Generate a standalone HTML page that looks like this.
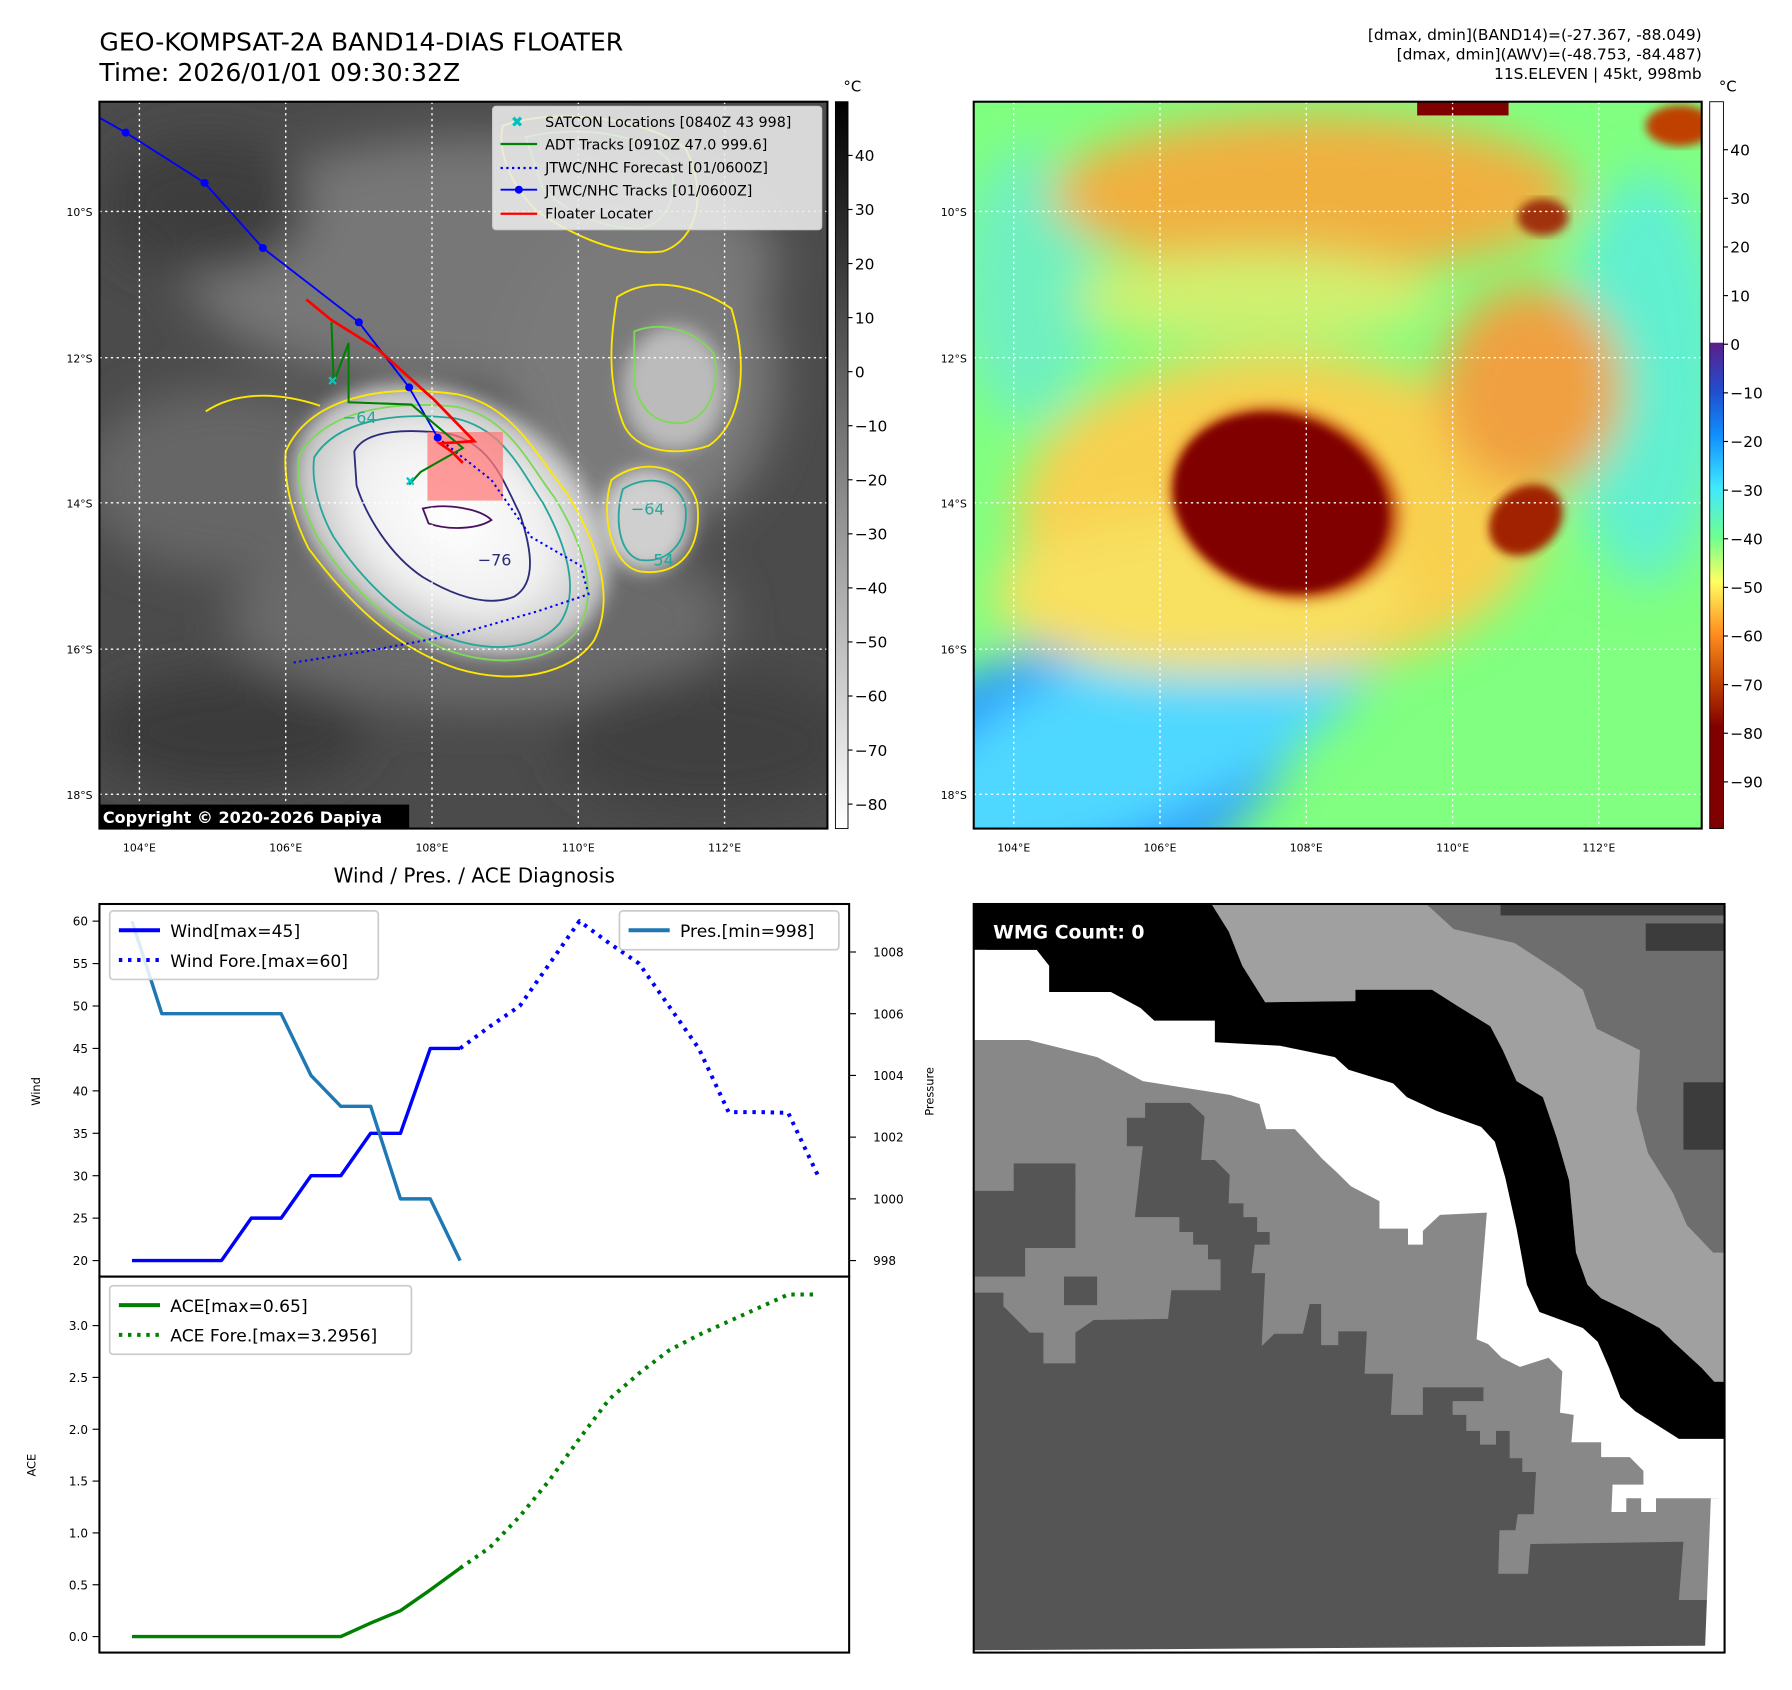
<!DOCTYPE html>
<html><head><meta charset="utf-8"><style>
html,body{margin:0;padding:0;background:#fff;}
svg{display:block;font-family:"DejaVu Sans","Liberation Sans",sans-serif;}
</style></head><body>
<svg id="root" width="1792" height="1690" viewBox="0 0 1568 1478.75" preserveAspectRatio="none" xmlns="http://www.w3.org/2000/svg">
<defs>
<filter id="b8" x="-20%" y="-20%" width="140%" height="140%"><feGaussianBlur stdDeviation="8"/></filter>
<filter id="b20" x="-30%" y="-30%" width="160%" height="160%"><feGaussianBlur stdDeviation="20"/></filter>
<filter id="b4"><feGaussianBlur stdDeviation="4"/></filter>
<radialGradient id="core" cx="50%" cy="50%" r="50%"><stop offset="0" stop-color="#fff"/><stop offset="0.6" stop-color="#f0f0f0"/><stop offset="1" stop-color="#bdbdbd"/></radialGradient>
<linearGradient id="cbgray" x1="0" y1="0" x2="0" y2="1"><stop offset="0" stop-color="#000"/><stop offset="1" stop-color="#fff"/></linearGradient>
<linearGradient id="cbcol" x1="0" y1="0" x2="0" y2="1">
<stop offset="0" stop-color="#fff"/><stop offset="0.331" stop-color="#fff"/><stop offset="0.332" stop-color="#5a1e8c"/>
<stop offset="0.40" stop-color="#2050d0"/><stop offset="0.46" stop-color="#1090ff"/><stop offset="0.53" stop-color="#40e8ff"/>
<stop offset="0.60" stop-color="#70ff90"/><stop offset="0.66" stop-color="#ffff60"/><stop offset="0.73" stop-color="#ff9020"/>
<stop offset="0.80" stop-color="#c04000"/><stop offset="0.86" stop-color="#800000"/><stop offset="1" stop-color="#800000"/></linearGradient>
<radialGradient id="redcore" cx="50%" cy="50%" r="50%"><stop offset="0" stop-color="#800000"/><stop offset="0.7" stop-color="#820000"/><stop offset="0.85" stop-color="#c05010"/><stop offset="1" stop-color="#f0a040" stop-opacity="0"/></radialGradient>
<clipPath id="clipL"><rect x="87" y="89" width="637" height="636"/></clipPath>
<clipPath id="clipR"><rect x="852" y="89" width="637" height="636"/></clipPath>
<clipPath id="clipB"><rect x="852" y="791" width="657" height="655"/></clipPath>
</defs>

<text x="87" y="44" font-size="22" fill="#000">GEO-KOMPSAT-2A BAND14-DIAS FLOATER</text>
<text x="87" y="71" font-size="22" fill="#000">Time: 2026/01/01 09:30:32Z</text>
<g font-size="13.5" text-anchor="end" fill="#000">
<text x="1489" y="35">[dmax, dmin](BAND14)=(-27.367, -88.049)</text>
<text x="1489" y="52">[dmax, dmin](AWV)=(-48.753, -84.487)</text>
<text x="1489" y="69">11S.ELEVEN | 45kt, 998mb</text>
</g>

<g clip-path="url(#clipL)">
<rect x="87" y="89" width="637" height="636" fill="#4b4b4b"/>
<g filter="url(#b20)">
<ellipse cx="420" cy="230" rx="260" ry="110" fill="#777"/>
<ellipse cx="560" cy="330" rx="120" ry="140" fill="#7a7a7a"/>
<ellipse cx="200" cy="420" rx="130" ry="80" fill="#666"/>
<ellipse cx="420" cy="540" rx="220" ry="80" fill="#6a6a6a"/>
<ellipse cx="200" cy="640" rx="120" ry="50" fill="#3a3a3a"/>
<ellipse cx="620" cy="650" rx="130" ry="60" fill="#3f3f3f"/>
<ellipse cx="180" cy="180" rx="90" ry="60" fill="#3c3c3c"/>
</g>
<ellipse cx="395" cy="455" rx="150" ry="105" transform="rotate(32 395 455)" fill="url(#core)" filter="url(#b8)"/>
<ellipse cx="565" cy="455" rx="40" ry="45" fill="#cfcfcf" filter="url(#b8)"/>
<ellipse cx="590" cy="340" rx="45" ry="55" fill="#bbb" filter="url(#b8)"/>
<g fill="none" stroke-width="1.6">
<path d="M250,395 C270,350 330,335 400,345 C450,355 470,400 495,430 C520,470 540,520 520,560 C500,590 450,600 400,585 C340,565 300,520 270,480 C255,450 248,420 250,395Z" stroke="#ffe800"/>
<path d="M262,398 C285,360 340,350 400,356 C445,365 462,405 485,435 C510,475 525,520 505,552 C485,578 440,585 395,570 C345,553 305,512 280,474 C266,450 258,420 262,398Z" stroke="#7ed957"/>
<path d="M275,400 C295,368 345,360 398,366 C440,375 455,410 475,440 C496,478 508,518 490,545 C470,568 432,572 392,558 C350,542 315,505 292,470 C279,447 272,420 275,400Z" stroke="#26a69a"/>
<path d="M310,395 C320,375 360,375 395,380 C430,390 440,420 455,450 C465,480 470,510 450,522 C425,532 395,520 370,505 C340,485 320,450 312,425Z" stroke="#2c2c7a"/>
<path d="M370,445 C390,440 420,445 430,455 C420,462 395,465 375,458Z" stroke="#4a1060"/>
<path d="M535,420 C560,400 600,405 610,440 C615,480 595,505 560,500 C535,495 525,450 535,420Z" stroke="#ffe800"/>
<path d="M545,428 C565,415 595,418 600,445 C602,475 585,493 560,490 C542,485 537,455 545,428Z" stroke="#26a69a"/>
<path d="M540,260 C570,240 610,250 640,270 C655,320 650,370 620,390 C590,400 555,395 545,370 C530,330 535,290 540,260Z" stroke="#ffe800"/>
<path d="M555,290 C580,280 610,290 625,310 C630,340 620,365 598,370 C575,372 560,360 555,335Z" stroke="#7ed957"/>
<path d="M440,110 C480,95 560,100 600,130 C620,170 610,210 580,220 C540,225 500,205 470,185 C445,160 435,130 440,110Z" stroke="#ffe800"/>
<path d="M460,120 C500,110 560,115 585,140 C595,170 585,195 560,200 C525,200 495,185 475,165Z" stroke="#7ed957"/>
<path d="M180,360 C210,340 250,345 280,355" stroke="#ffe800"/>
</g>
<g font-size="14" fill="#26a69a">
<text x="300" y="370">−64</text><text x="418" y="495" fill="#2c2c7a">−76</text><text x="552" y="450">−64</text><text x="560" y="495">−54</text>
</g>
</g>
<g stroke="#fff" stroke-width="1.2" stroke-dasharray="2,3" fill="none">
<path d="M122,89V725M250,89V725M378,89V725M506,89V725M634,89V725M87,185H724M87,313H724M87,440H724M87,568H724M87,695H724"/>
</g>
<g><rect x="374" y="378" width="66" height="60" fill="#ff7a7a" opacity="0.75"/></g>
<g>
<polyline points="87,103 110,116 179,160 230,217 314,282 358,339 383,383" fill="none" stroke="#0000ff" stroke-width="1.6"/>
<g fill="#0000ff"><circle cx="110" cy="116" r="3.5"/><circle cx="179" cy="160" r="3.5"/><circle cx="230" cy="217" r="3.5"/><circle cx="314" cy="282" r="3.5"/><circle cx="358" cy="339" r="3.5"/><circle cx="383" cy="383" r="3.5"/></g>
</g>
<polyline points="383,383 430,420 465,470 508,495 515,520 470,535 400,555 320,570 255,580" fill="none" stroke="#0000ff" stroke-width="1.8" stroke-dasharray="2,3"/>
<polyline points="290,282 292,335 305,300 305,352 360,354 405,392 368,413 358,424" fill="none" stroke="#008000" stroke-width="1.8"/>
<polyline points="268,262 290,280 330,305 380,350 415,386 385,388 395,395 405,405" fill="none" stroke="#ff0000" stroke-width="2.4"/>
<g stroke="#00c8c8" stroke-width="2"><path d="M288,330l6,6M294,330l-6,6M356,418l6,6M362,418l-6,6"/></g>
<rect x="87" y="89" width="637" height="636" fill="none" stroke="#000" stroke-width="1.8"/>
<g font-size="12.5" fill="#000">
<rect x="431" y="93" width="288" height="108" rx="3" fill="#ececec" fill-opacity="0.88" stroke="#ccc"/>
<text x="447" y="111" font-size="13" fill="#00c0c0" font-weight="bold">✖</text><text x="477" y="111">SATCON Locations [0840Z 43 998]</text>
<line x1="438" y1="126" x2="470" y2="126" stroke="#008000" stroke-width="2"/><text x="477" y="131">ADT Tracks [0910Z 47.0 999.6]</text>
<line x1="438" y1="147" x2="470" y2="147" stroke="#0000ff" stroke-width="2" stroke-dasharray="2,3"/><text x="477" y="151">JTWC/NHC Forecast [01/0600Z]</text>
<line x1="438" y1="166" x2="470" y2="166" stroke="#0000ff" stroke-width="1.6"/><circle cx="454" cy="166" r="3.5" fill="#0000ff"/><text x="477" y="171">JTWC/NHC Tracks [01/0600Z]</text>
<line x1="438" y1="187" x2="470" y2="187" stroke="#ff0000" stroke-width="2"/><text x="477" y="191">Floater Locater</text>
</g>
<g><rect x="87" y="704" width="271" height="21" fill="#000"/><text x="90" y="720" font-size="14" font-weight="bold" fill="#fff">Copyright © 2020-2026 Dapiya</text></g>
<g font-size="9.5" fill="#000">
<g text-anchor="end"><text x="81" y="189">10°S</text><text x="81" y="317">12°S</text><text x="81" y="444">14°S</text><text x="81" y="572">16°S</text><text x="81" y="699">18°S</text></g>
<g text-anchor="middle"><text x="122" y="745">104°E</text><text x="250" y="745">106°E</text><text x="378" y="745">108°E</text><text x="506" y="745">110°E</text><text x="634" y="745">112°E</text></g>
</g>
<g>
<rect x="731" y="89" width="11" height="636" fill="url(#cbgray)" stroke="#000" stroke-width="0.8"/>
<text x="738" y="80" font-size="13">°C</text>
<g font-size="13.5" fill="#000" id="cbL"></g>
</g>

<g clip-path="url(#clipR)">
<rect x="852" y="89" width="637" height="636" fill="#80ff80"/>
<g filter="url(#b20)">
<ellipse cx="900" cy="700" rx="260" ry="120" transform="rotate(-25 900 700)" fill="#2090ff"/>
<ellipse cx="1000" cy="640" rx="230" ry="80" transform="rotate(-25 1000 640)" fill="#50d8ff"/>
<ellipse cx="1440" cy="330" rx="70" ry="180" fill="#60f0d0"/>
<ellipse cx="900" cy="250" rx="60" ry="120" fill="#70f0c0"/>
<ellipse cx="1150" cy="170" rx="230" ry="70" fill="#f0b040"/>
<ellipse cx="1120" cy="450" rx="230" ry="140" fill="#f8d050"/>
<ellipse cx="1340" cy="340" rx="80" ry="90" fill="#f0a040"/>
<ellipse cx="1050" cy="520" rx="180" ry="70" fill="#f8e060"/>
<ellipse cx="1100" cy="260" rx="160" ry="40" fill="#d0f070"/>
</g>
<ellipse cx="1125" cy="440" rx="112" ry="90" transform="rotate(20 1125 440)" fill="url(#redcore)" filter="url(#b4)"/>
<ellipse cx="1120" cy="440" rx="95" ry="75" transform="rotate(20 1120 440)" fill="#800000" filter="url(#b4)"/>
<ellipse cx="1335" cy="455" rx="35" ry="28" transform="rotate(-40 1335 455)" fill="#a02000" filter="url(#b4)"/>
<ellipse cx="1350" cy="190" rx="22" ry="16" fill="#a03010" filter="url(#b4)"/>
<rect x="1240" y="89" width="80" height="12" fill="#800000"/>
<ellipse cx="1470" cy="110" rx="30" ry="18" fill="#c04000" filter="url(#b4)"/>
</g>
<g stroke="#fff" stroke-width="1.2" stroke-dasharray="2,3" fill="none">
<path d="M887,89V725M1015,89V725M1143,89V725M1271,89V725M1399,89V725M852,185H1489M852,313H1489M852,440H1489M852,568H1489M852,695H1489"/>
</g>
<rect x="852" y="89" width="637" height="636" fill="none" stroke="#000" stroke-width="1.8"/>
<g font-size="9.5" fill="#000">
<g text-anchor="end"><text x="846" y="189">10°S</text><text x="846" y="317">12°S</text><text x="846" y="444">14°S</text><text x="846" y="572">16°S</text><text x="846" y="699">18°S</text></g>
<g text-anchor="middle"><text x="887" y="745">104°E</text><text x="1015" y="745">106°E</text><text x="1143" y="745">108°E</text><text x="1271" y="745">110°E</text><text x="1399" y="745">112°E</text></g>
</g>
<g>
<rect x="1496" y="89" width="12" height="636" fill="url(#cbcol)" stroke="#000" stroke-width="0.8"/>
<text x="1504" y="80" font-size="13">°C</text>
<g font-size="13.5" fill="#000" id="cbR"></g>
</g>

<g clip-path="url(#clipB)">
<rect x="852" y="791" width="657" height="655" fill="#888"/>
<polygon fill="#555" points="852,1131 878,1131 878,1143 901,1166 913,1166 913,1193 941,1193 941,1166 957,1155 1022,1154 1025,1129 1068,1129 1068,1102 1057,1102 1057,1089 1044,1089 1044,1078 1032,1078 1032,1065 993,1065 1000,1003 986,1003 986,978 1002,978 1002,965 1041,965 1054,977 1051,1015 1063,1015 1076,1028 1075,1053 1088,1053 1088,1065 1100,1065 1100,1078 1111,1078 1111,1089 1098,1089 1095,1114 1107,1114 1104,1178 1115,1167 1140,1167 1146,1141 1156,1141 1156,1177 1171,1177 1171,1165 1196,1165 1194,1202 1219,1202 1217,1238 1245,1238 1245,1214 1298,1214 1298,1226 1271,1226 1271,1238 1283,1238 1283,1252 1295,1252 1295,1264 1309,1264 1309,1252 1321,1252 1321,1276 1332,1276 1332,1288 1344,1288 1342,1325 1328,1325 1326,1339 1312,1339 1311,1377 1337,1377 1339,1351 1473,1349 1469,1400 1495,1400 1493,1446 852,1446"/>
<g fill="#555"><rect x="887" y="1018" width="54" height="74"/><rect x="853" y="1042" width="44" height="75"/><rect x="931" y="1117" width="29" height="25"/><rect x="927" y="1029" width="14" height="11"/></g>
<polygon fill="#fff" points="852,831 1509,831 1509,1446 1493,1446 1504,1311 1449,1311 1449,1323 1436,1323 1436,1311 1423,1311 1423,1323 1410,1323 1411,1299 1438,1299 1438,1287 1426,1275 1401,1275 1401,1262 1375,1262 1377,1238 1365,1236 1367,1200 1355,1188 1330,1196 1314,1188 1302,1176 1292,1172 1301,1061 1260,1063 1245,1077 1245,1089 1232,1089 1232,1075 1207,1075 1207,1051 1182,1038 1170,1026 1157,1014 1146,1002 1133,988 1108,988 1102,966 1076,958 1000,946 960,925 900,910 852,910"/>
<polygon fill="#a0a0a0" points="1060,791 1509,791 1509,1209 1500,1209 1489,1197 1477,1186 1464,1174 1452,1162 1426,1148 1401,1136 1389,1124 1379,1096 1373,1033 1362,995 1350,960 1327,946 1315,919 1304,898 1275,880 1253,866 1186,866 1186,876 1107,877 1087,845 1075,815"/>
<polygon fill="#6e6e6e" points="1248,791 1272,813 1325,825 1365,851 1385,866 1397,900 1435,919 1432,971 1442,1009 1464,1044 1476,1072 1499,1096 1509,1096 1509,791"/>
<g fill="#3c3c3c"><rect x="1313" y="791" width="196" height="10"/><rect x="1440" y="808" width="69" height="24"/><rect x="1473" y="947" width="36" height="59"/></g>
<polygon fill="#000" points="852,791 1060,791 1075,815 1087,845 1107,877 1186,876 1186,866 1253,866 1275,880 1304,898 1315,919 1327,946 1350,960 1362,995 1373,1033 1379,1096 1389,1124 1401,1136 1426,1148 1452,1162 1464,1174 1477,1186 1489,1197 1500,1209 1509,1209 1509,1259 1469,1259 1431,1235 1418,1223 1408,1197 1398,1174 1385,1162 1347,1148 1336,1124 1327,1075 1317,1030 1308,999 1296,986 1257,972 1231,960 1219,948 1180,936 1168,925 1120,915 1063,912 1063,893 1010,893 998,882 972,868 918,868 918,845 907,831 852,831"/>
<polygon fill="#fff" points="1509,1311 1509,1446 852,1446 852,1444 1492,1440 1497,1311"/>
</g>
<rect x="852" y="791" width="657" height="655" fill="none" stroke="#000" stroke-width="1.8"/>
<g><rect x="860" y="799" width="160" height="32" rx="4" fill="#000"/><text x="869" y="821" font-size="16.5" font-weight="bold" fill="#fff">WMG Count: 0</text></g>

<text x="415" y="772" font-size="17.5" text-anchor="middle" fill="#000">Wind / Pres. / ACE Diagnosis</text>
<g id="chart"></g>
</svg>
<script>
const steps = [0,1,2,3,4,5,6,7,8,9,10,11];
const windObs = [20,20,20,20,25,25,30,30,35,35,45,45];
const windFcstIdx = [11,12,13,14,15,16,17,18,19,20,21,22,23];
const windFcst = [45,47.6,50,55,60,57.4,55,50,45,37.5,37.5,37.4,30];
const presObs = [1009,1006,1006,1006,1006,1006,1004,1003,1003,1000,1000,998];
const aceObs = [0,0,0,0,0,0,0,0,0.13,0.25,0.45,0.66];
const aceFcst = [0.66,0.86,1.16,1.51,1.91,2.29,2.54,2.76,2.91,3.04,3.17,3.30,3.30];
const windTicks = [20,25,30,35,40,45,50,55,60];
const presTicks = [998,1000,1002,1004,1006,1008];
const aceTicks = [0.0,0.5,1.0,1.5,2.0,2.5,3.0];
const cbLTicks = [40,30,20,10,0,-10,-20,-30,-40,-50,-60,-70,-80];
const cbRTicks = [40,30,20,10,0,-10,-20,-30,-40,-50,-60,-70,-80,-90];

const NS='http://www.w3.org/2000/svg';
function mk(tag, attrs, parent){const e=document.createElementNS(NS,tag);for(const k in attrs)e.setAttribute(k,attrs[k]);parent.appendChild(e);return e;}
const xS = i => 115.5 + 26.1*i;
const yW = v => 1103 - (v-20)*7.425;
const yP = p => 1103 - (p-998)*27;
const yA = a => 1432 - a*90.7;
const lbl = v => String(v).replace('-','\u2212');

const cbL=document.getElementById('cbL');
cbLTicks.forEach(v=>{const y=136+(40-v)*4.73;
 const l=mk('line',{x1:742,x2:746,y1:y,y2:y,stroke:'#000'},cbL);
 
 
 const t=mk('text',{x:748,y:y+5},cbL);t.textContent=lbl(v);
 
 });
const cbR=document.getElementById('cbR');
cbRTicks.forEach(v=>{const y=131+(40-v)*4.255;
 const l=mk('line',{x1:1508,x2:1512,y1:y,y2:y,stroke:'#000'},cbR);
 
 
 const t=mk('text',{x:1514,y:y+5},cbR);t.textContent=lbl(v);
 
 });

const g=document.getElementById('chart');
mk('rect',{x:87,y:791,width:656,height:326,fill:'none',stroke:'#000','stroke-width':1.8},g);
mk('rect',{x:87,y:1117,width:656,height:329,fill:'none',stroke:'#000','stroke-width':1.8},g);
function pl(pts,color,dash,w,name){const p=mk('polyline',{points:pts.map(q=>q.join(',')).join(' '),fill:'none',stroke:color,'stroke-width':w,'stroke-dasharray':dash||'none','stroke-linejoin':'round'},g);
 
 }
windTicks.forEach(v=>{const y=yW(v);mk('line',{x1:81,x2:87,y1:y,y2:y,stroke:'#000'},g);
 const t=mk('text',{x:77,y:y+4,'font-size':10.5,'text-anchor':'end'},g);t.textContent=v;
 
 });
presTicks.forEach(v=>{const y=yP(v);mk('line',{x1:743,x2:749,y1:y,y2:y,stroke:'#000'},g);
 const t=mk('text',{x:764,y:y+4,'font-size':10.5},g);t.textContent=v;
 
 });
aceTicks.forEach(v=>{const y=yA(v);mk('line',{x1:81,x2:87,y1:y,y2:y,stroke:'#000'},g);
 const t=mk('text',{x:77,y:y+4,'font-size':10.5,'text-anchor':'end'},g);t.textContent=v.toFixed(1);
 
 });
function axTitle(x,y,s,name){const t=mk('text',{x:x,y:y,'font-size':10,'text-anchor':'middle',transform:`rotate(-90 ${x} ${y})`},g);t.textContent=s;
 
 }
axTitle(35,955,'Wind','wind-axis-title');axTitle(817,955,'Pressure','pressure-axis-title');axTitle(31,1282,'ACE','ace-axis-title');

pl(windObs.map((v,i)=>[xS(steps[i]),yW(v)]),'#0000ff',null,3,'wind-line');
pl(windFcst.map((v,i)=>[xS(windFcstIdx[i]),yW(v)]),'#0000ff','3,5',3.5,'wind-forecast-line');
pl(presObs.map((v,i)=>[xS(steps[i]),yP(v)]),'#1f77b4',null,3,'pressure-line');
pl(aceObs.map((v,i)=>[xS(steps[i]),yA(v)]),'#008000',null,3,'ace-line');
pl(aceFcst.map((v,i)=>[xS(windFcstIdx[i]),yA(v)]),'#008000','3,5',3.5,'ace-forecast-line');

function legend(x,y,w,items,name){const lg=mk('g',{},g);
 
 
 mk('rect',{x:x,y:y,width:w,height:items.length*26+8,rx:3,fill:'#fff','fill-opacity':0.85,stroke:'#ccc','stroke-width':1.5},lg);
 items.forEach((it,i)=>{const yy=y+17+i*26;
  mk('line',{x1:x+8,x2:x+44,y1:yy,y2:yy,stroke:it[1],'stroke-width':3.5,'stroke-dasharray':it[2]||'none'},lg);
  const t=mk('text',{x:x+53,y:yy+6,'font-size':15},lg);t.textContent=it[0];});}
legend(96,797,235,[['Wind[max=45]','#0000ff'],['Wind Fore.[max=60]','#0000ff','3,5']],'wind-legend');
legend(542,797,192,[['Pres.[min=998]','#1f77b4']],'pressure-legend');
legend(96,1125,264,[['ACE[max=0.65]','#008000'],['ACE Fore.[max=3.2956]','#008000','3,5']],'ace-legend');
</script>
</body></html>
